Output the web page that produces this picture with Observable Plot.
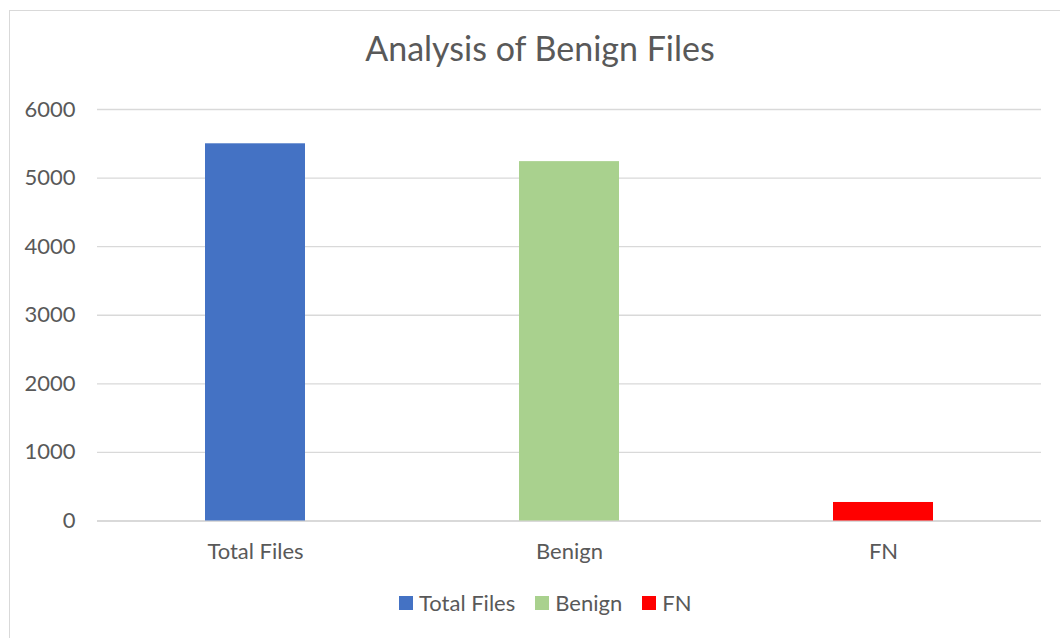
<!DOCTYPE html>
<html>
<head>
<meta charset="utf-8">
<script src="https://cdn.jsdelivr.net/npm/d3@7"></script>
<script src="https://cdn.jsdelivr.net/npm/@observablehq/plot@0.6"></script>
<style>
  html, body { margin: 0; padding: 0; background: #fff; overflow: hidden; width: 1060px; height: 638px; }
  body { position: relative; font-family: Lato, "Open Sans", sans-serif; color: #595959; }
  #frame { position: absolute; left: 9px; top: 10px; width: 1100px; height: 700px;
           border-left: 1px solid #d9d9d9; border-top: 1px solid #d9d9d9; }
  #title { position: absolute; left: 0; top: 27px; width: 1060px; padding-left: 20px; box-sizing: border-box;
           text-align: center; font-size: 34px; line-height: 41px; color: #595959; }
  #chart { position: absolute; left: 0; top: 90px; }
  #legend { position: absolute; left: 399px; top: 590px; display: flex; align-items: center;
            font-size: 22px; line-height: 26px; color: #595959; white-space: nowrap; }
  #legend .item { display: flex; align-items: center; margin-right: 20px; }
  #legend .sw { width: 14px; height: 14px; margin-right: 6px; display: inline-block; }
</style>
</head>
<body>
<div id="frame"></div>
<div id="title"></div>
<div id="chart"></div>
<div id="legend"></div>
<script>
const titleText = "Analysis of Benign Files";
const categories = ["Total Files", "Benign", "FN"];
const values = [5500, 5240, 270];
const colors = ["#4472C4", "#A9D18E", "#FF0000"];
const yTicks = [0, 1000, 2000, 3000, 4000, 5000, 6000];

const data = categories.map((c, i) => ({category: c, value: values[i]}));

document.getElementById("title").textContent = titleText;

const chart = Plot.plot({
  width: 1060,
  height: 490,
  marginLeft: 97,
  marginRight: 19,
  marginTop: 19,
  marginBottom: 59.5,
  style: {fontFamily: "Lato, 'Open Sans', sans-serif", fontSize: "22px", color: "#595959", background: "transparent", overflow: "visible"},
  x: {domain: categories, paddingInner: 0.682, paddingOuter: 0.341, label: null},
  y: {domain: [0, 6000], label: null},
  color: {domain: categories, range: colors},
  marks: [
    Plot.gridY({ticks: yTicks, stroke: "#d9d9d9", strokeOpacity: 1, strokeWidth: 1.3}),
    Plot.ruleY([0], {stroke: "#d9d9d9", strokeWidth: 1.8}),
    Plot.barY(data, {x: "category", y: "value", fill: "category"}),
    Plot.axisY({ticks: yTicks, tickSize: 0, tickPadding: 22, tickFormat: d3.format("d"), label: null}),
    Plot.axisX({tickSize: 0, tickPadding: 22, label: null})
  ]
});
document.getElementById("chart").appendChild(chart);

const legend = document.getElementById("legend");
categories.forEach((c, i) => {
  const item = document.createElement("span");
  item.className = "item";
  const sw = document.createElement("span");
  sw.className = "sw";
  sw.style.background = colors[i];
  const t = document.createElement("span");
  t.textContent = c;
  item.appendChild(sw);
  item.appendChild(t);
  legend.appendChild(item);
});
</script>
</body>
</html>
